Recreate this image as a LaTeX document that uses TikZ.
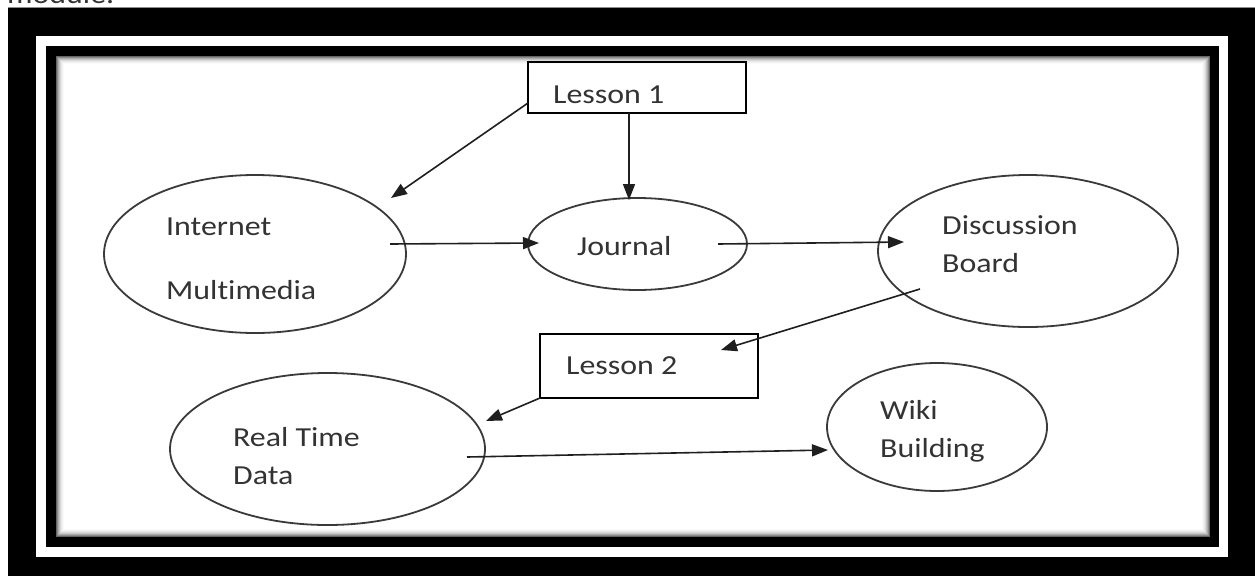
\documentclass[tikz,border=0pt]{standalone}
\usepackage{fontspec}
\setmainfont{Carlito}[FakeStretch=1.16,Ligatures={NoCommon}]
\usetikzlibrary{shapes.geometric,arrows.meta}
\definecolor{inkgray}{HTML}{333333}
\definecolor{ovalgray}{HTML}{3A3A3A}
\tikzset{
  oval/.style={ellipse, draw=ovalgray, line width=1.8pt, inner sep=0pt},
  lessonbox/.style={rectangle, draw=black, line width=1.8pt, inner sep=0pt},
  txt/.style={anchor=base west, inner sep=0pt, text=inkgray, font=\fontsize{27.5}{33}\selectfont},
  arr/.style={draw=black!88, line width=1.6pt, -{Triangle[length=16pt,width=12pt]}},
}
\begin{document}
\begin{tikzpicture}[x=1pt,y=-1pt]
\useasboundingbox (0,0) rectangle (1255,576);
% frame
\fill[white] (0,0) rectangle (1255,576);
\node[txt, text=black!80] (mod) at (7,3) {module.};
\fill[black] (8,7) rectangle (1255,576);
\draw[black!45, line width=0.8pt] (8,7.4) -- (1255,7.4);
\fill[white] (36,36) rectangle (1228,557);
\fill[black] (46,46) rectangle (1219,547);
\fill[white] (56,56) rectangle (1210,537);
\foreach \i/\c in {0.5/60,1.5/45,2.5/33,3.5/23,4.5/15,5.5/9,6.5/5,7.5/2}{
  \draw[black!\c, line width=1pt] (56+\i,56+\i) rectangle (1210-\i,537-\i);
}
% nodes
\node[lessonbox, minimum width=218pt, minimum height=51pt] (l1) at (637,87.5) {};
\node[txt] (l1t) at (553,103) {Lesson 1};
\node[oval, minimum width=302pt, minimum height=158pt] (im) at (255,254) {};
\node[txt] (imt1) at (166,235) {Internet};
\node[txt] (imt2) at (166,299) {Multimedia};
\node[oval, minimum width=219pt, minimum height=92pt] (jo) at (637.5,244) {};
\node[txt] (jot) at (577,255) {Journal};
\node[oval, minimum width=300pt, minimum height=152pt] (db) at (1028,251) {};
\node[txt] (dbt1) at (942,234) {Discussion};
\node[txt] (dbt2) at (942,272) {Board};
\node[lessonbox, minimum width=218pt, minimum height=64pt] (l2) at (649,366) {};
\node[txt] (l2t) at (566,374) {Lesson 2};
\node[oval, minimum width=315pt, minimum height=152pt] (rt) at (327.5,449) {};
\node[txt] (rtt1) at (233,446) {Real Time};
\node[txt] (rtt2) at (233,484) {Data};
\node[oval, minimum width=220pt, minimum height=128pt] (wk) at (937,427) {};
\node[txt] (wkt1) at (880,419) {Wiki};
\node[txt] (wkt2) at (880,457) {Building};
% connector ends
\coordinate (a1s) at (528,103);
\coordinate (a1e) at (391,198);
\coordinate (a2s) at (629,113);
\coordinate (a2e) at (629,200);
\coordinate (a3s) at (390,244);
\coordinate (a3e) at (539,243);
\coordinate (a4s) at (718,244);
\coordinate (a4e) at (904,242);
\coordinate (a5s) at (920,289);
\coordinate (a5e) at (721,350);
\coordinate (a6s) at (540,398);
\coordinate (a6e) at (486,421);
\coordinate (a7s) at (467,457);
\coordinate (a7e) at (828,450);
% connectors
\draw[arr] (a1s) -- (a1e);
\draw[arr] (a2s) -- (a2e);
\draw[arr] (a3s) -- (a3e);
\draw[arr] (a4s) -- (a4e);
\draw[arr] (a5s) -- (a5e);
\draw[arr] (a6s) -- (a6e);
\draw[arr] (a7s) -- (a7e);
\end{tikzpicture}
\end{document}
